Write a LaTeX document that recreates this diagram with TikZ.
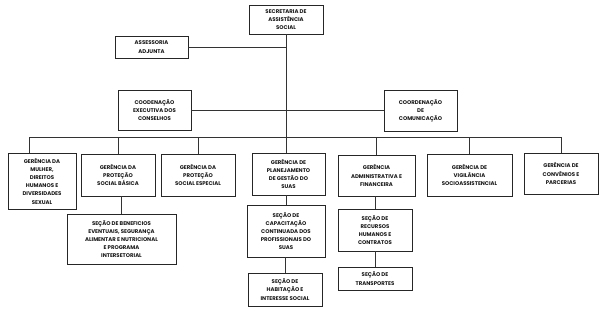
\documentclass[tikz,border=0pt]{standalone}
\usepackage{fontspec}
\setmainfont{Poppins}
\begin{document}
\begin{tikzpicture}[x=1pt, y=-1pt,
  box/.style={draw=black!85, line width=0.9pt, rectangle, align=center, inner sep=0pt,
    font=\fontsize{5.4}{8.2}\selectfont\bfseries, text=black!90},
  link/.style={draw=black!80, line width=0.8pt}]
  \useasboundingbox (0,0) rectangle (606,311);
  \node (sec) [box, minimum width=74pt, minimum height=29pt] at (286,19.5) {SECRETARIA DE\\ASSISTÊNCIA\\SOCIAL};
  \node (ass) [box, minimum width=73pt, minimum height=22pt] at (151.5,47) {ASSESSORIA\\ADJUNTA};
  \node (cexec) [box, minimum width=73pt, minimum height=40pt] at (154.5,110) {COODENAÇÃO\\EXECUTIVA DOS\\CONSELHOS};
  \node (ccom) [box, minimum width=73pt, minimum height=41pt] at (420.5,111) {COORDENAÇÃO\\DE\\COMUNICAÇÃO};

  \node (mulher) [box, minimum width=68pt, minimum height=56pt] at (42,181) {GERÊNCIA DA\\MULHER,\\DIREITOS\\HUMANOS E\\DIVERSIDADES\\SEXUAL};
  \node (basica) [box, minimum width=74pt, minimum height=42pt] at (118,175) {GERÊNCIA DA\\PROTEÇÃO\\SOCIAL BÁSICA};
  \node (especial) [box, minimum width=74pt, minimum height=42pt] at (198,175) {GERÊNCIA DA\\PROTEÇÃO\\SOCIAL ESPECIAL};
  \node (plan) [box, minimum width=73pt, minimum height=42pt] at (288.5,174) {GERÊNCIA DE\\PLANEJAMENTO\\DE GESTÃO DO\\SUAS};
  \node (adm) [box, minimum width=77pt, minimum height=41pt] at (376.5,175.5) {GERÊNCIA\\ADMINISTRATIVA E\\FINANCEIRA};
  \node (vig) [box, minimum width=85pt, minimum height=42pt] at (469.5,175) {GERÊNCIA DE\\VIGILÂNCIA\\SOCIOASSISTENCIAL};
  \node (conv) [box, minimum width=74pt, minimum height=41pt] at (561,173.5) {GERÊNCIA DE\\CONVÊNIOS E\\PARCERIAS};

  \node (benef) [box, minimum width=109pt, minimum height=50pt] at (121.5,239) {SEÇÃO DE BENEFICIOS\\EVENTUAIS, SEGURANÇA\\ALIMENTAR E NUTRICIONAL\\E PROGRAMA\\INTERSETORIAL};
  \node (capac) [box, minimum width=78pt, minimum height=52pt] at (286,231) {SEÇÃO DE\\CAPACITAÇÃO\\CONTINUADA DOS\\PROFISSIONAIS DO\\SUAS};
  \node (habit) [box, minimum width=74pt, minimum height=33pt] at (285,289.5) {SEÇÃO DE\\HABITAÇÃO E\\INTERESSE SOCIAL};
  \node (recur) [box, minimum width=74pt, minimum height=42pt] at (375,230) {SEÇÃO DE\\RECURSOS\\HUMANOS E\\CONTRATOS};
  \node (transp) [box, minimum width=74pt, minimum height=23pt] at (375,278.5) {SEÇÃO DE\\TRANSPORTES};

  \coordinate (bus) at (29,137);

  \draw [link] (sec.south) -- (sec.south |- plan.north);
  \draw [link] (ass.east) -- (ass.east -| sec.south);
  \draw [link] (cexec.east) -- (cexec.east -| ccom.west);
  \draw [link] (bus) -- (bus -| conv.north);
  \draw [link] (bus) -- (bus |- mulher.north);
  \draw [link] (basica.north |- bus) -- (basica.north);
  \draw [link] (especial.north |- bus) -- (especial.north);
  \draw [link] (adm.north |- bus) -- (adm.north);
  \draw [link] (vig.north |- bus) -- (vig.north);
  \draw [link] (conv.north |- bus) -- (conv.north);

  \draw [link] (benef.north |- basica.south) -- (benef.north);
  \draw [link] (capac.north |- plan.south) -- (capac.north);
  \draw [link] (habit.north |- capac.south) -- (habit.north);
  \draw [link] (recur.north |- adm.south) -- (recur.north);
  \draw [link] (transp.north |- recur.south) -- (transp.north);
\end{tikzpicture}
\end{document}
